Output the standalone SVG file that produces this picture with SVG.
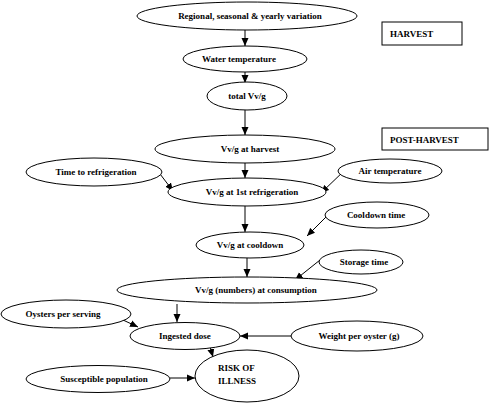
<svg xmlns="http://www.w3.org/2000/svg" width="489" height="404" viewBox="0 0 489 404">
<style>
.n ellipse,.n rect{fill:#fff;stroke:#000;stroke-width:1}
text{font-family:"Liberation Serif","Times New Roman",serif;font-weight:bold;font-size:9px;fill:#000}
.c{text-anchor:middle}
#edges line{stroke:#000;stroke-width:1;fill:none;marker-end:url(#ah)}
</style>
<defs>
<marker id="ah" markerUnits="userSpaceOnUse" markerWidth="8" markerHeight="8" viewBox="0 0 8 8" refX="8" refY="4" orient="auto">
<path d="M0,0.5 L8,4 L0,7.5 Z" fill="#000"/>
</marker>
</defs>
<rect width="489" height="404" fill="#fff"/>
<g id="edges">
<line x1="245" y1="30" x2="245" y2="46"/>
<line x1="245" y1="72" x2="245" y2="83"/>
<line x1="245" y1="110" x2="245" y2="135"/>
<line x1="245" y1="163" x2="245" y2="178"/>
<line x1="245" y1="206" x2="245" y2="232"/>
<line x1="247" y1="258" x2="247" y2="277"/>
<line x1="177" y1="304" x2="177" y2="322"/>
<line x1="157" y1="170" x2="173" y2="191"/>
<line x1="346" y1="169" x2="321" y2="193"/>
<line x1="326" y1="217" x2="307" y2="236"/>
<line x1="320" y1="260" x2="295" y2="280"/>
<line x1="123" y1="320" x2="138" y2="327"/>
<line x1="292" y1="336" x2="240" y2="336"/>
<line x1="209" y1="343" x2="213" y2="357"/>
<line x1="170" y1="378" x2="195" y2="378"/>
</g>
<g id="regional" class="n"><ellipse cx="247" cy="16" rx="110" ry="14"/><text class="c" x="250" y="19">Regional, seasonal &amp; yearly variation</text></g>
<g id="water" class="n"><ellipse cx="245" cy="59" rx="62" ry="13"/><text class="c" x="239" y="62">Water temperature</text></g>
<g id="total" class="n"><ellipse cx="247" cy="96" rx="40" ry="14"/><text class="c" x="247" y="99">total Vv/g</text></g>
<g id="harvest" class="n"><ellipse cx="245" cy="149" rx="90" ry="14"/><text class="c" x="250" y="152">Vv/g at harvest</text></g>
<g id="refrig" class="n"><ellipse cx="247" cy="192" rx="79" ry="14"/><text class="c" x="252" y="195">Vv/g at 1st refrigeration</text></g>
<g id="cooldown" class="n"><ellipse cx="250" cy="245" rx="54" ry="13"/><text class="c" x="250" y="248">Vv/g at cooldown</text></g>
<g id="consumption" class="n"><ellipse cx="247" cy="290" rx="130" ry="13"/><text class="c" x="256" y="293">Vv/g (numbers) at consumption</text></g>
<g id="ingested" class="n"><ellipse cx="185" cy="336" rx="55" ry="13.5"/><text class="c" x="185" y="339">Ingested dose</text></g>
<g id="risk" class="n"><ellipse cx="247" cy="376" rx="52" ry="26"/><text x="218" y="371">RISK OF</text><text x="218" y="384">ILLNESS</text></g>
<g id="oysters" class="n"><ellipse cx="66" cy="314" rx="65" ry="14"/><text class="c" x="63" y="317">Oysters per serving</text></g>
<g id="susceptible" class="n"><ellipse cx="98" cy="379" rx="72" ry="13.5"/><text class="c" x="104" y="382">Susceptible population</text></g>
<g id="weight" class="n"><ellipse cx="357" cy="336" rx="66" ry="15"/><text class="c" x="359" y="339">Weight per oyster (g)</text></g>
<g id="timerefrig" class="n"><ellipse cx="94" cy="172" rx="68" ry="14"/><text class="c" x="96" y="175">Time to refrigeration</text></g>
<g id="air" class="n"><ellipse cx="390" cy="171" rx="52" ry="12"/><text class="c" x="390" y="174">Air temperature</text></g>
<g id="cooltime" class="n"><ellipse cx="377" cy="215" rx="52" ry="13"/><text class="c" x="376" y="218">Cooldown time</text></g>
<g id="storage" class="n"><ellipse cx="361" cy="262" rx="42" ry="12"/><text class="c" x="364" y="265">Storage time</text></g>
<g id="harvestbox" class="n"><rect x="382" y="22" width="80" height="23"/><text x="390" y="37">HARVEST</text></g>
<g id="postbox" class="n"><rect x="382" y="128" width="106" height="22"/><text x="390" y="143">POST-HARVEST</text></g>
</svg>
